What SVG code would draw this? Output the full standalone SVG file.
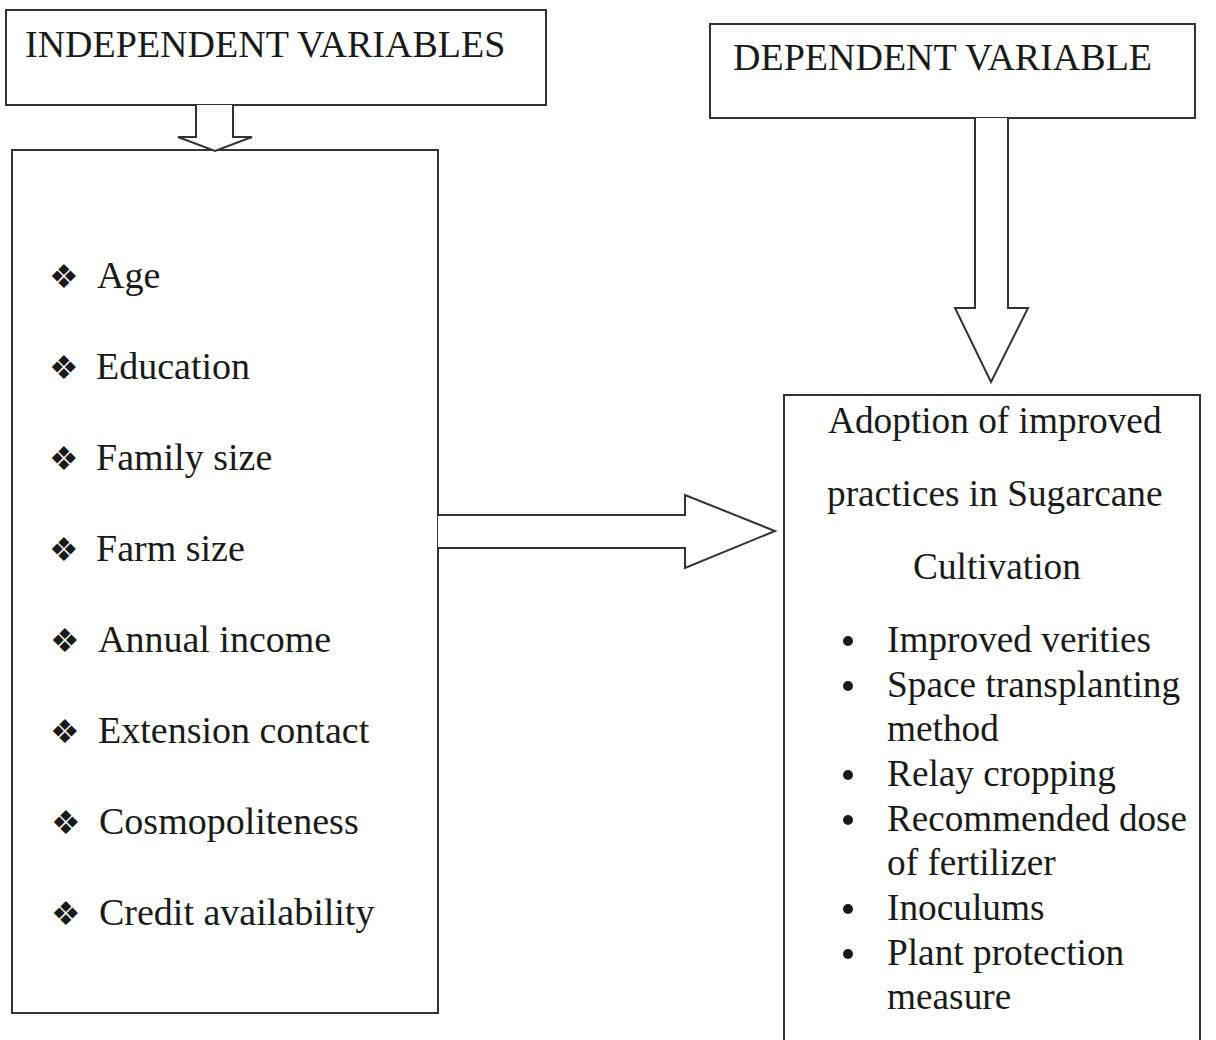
<svg xmlns="http://www.w3.org/2000/svg" width="1216" height="1040" viewBox="0 0 1216 1040">
<style>
.box{fill:none;stroke:#333;stroke-width:2}
.arr{fill:#fff;stroke:#333;stroke-width:2;stroke-linejoin:miter}
.t{font-family:"Liberation Serif","Times New Roman",serif;font-size:38px;fill:#1a1a1a}
.r{font-size:37.3px}
.sym{font-family:"DejaVu Sans",sans-serif;font-size:33px;fill:#1a1a1a}
.dot{fill:#1a1a1a}
</style>
<rect width="1216" height="1040" fill="#fff"/>
<g id="independent-title">
<rect class="box" x="6" y="10" width="540" height="95"/>
<text class="t" x="25" y="57">INDEPENDENT VARIABLES</text>
</g>
<g id="dependent-title">
<rect class="box" x="710" y="24" width="485" height="94"/>
<text class="t" x="733" y="70">DEPENDENT VARIABLE</text>
</g>
<g id="independent-list">
<rect class="box" x="12" y="150" width="426" height="863"/>
<g class="sym">
<text x="49" y="288">❖</text>
<text x="49" y="379">❖</text>
<text x="49" y="470">❖</text>
<text x="49" y="561">❖</text>
<text x="50" y="652">❖</text>
<text x="50" y="743">❖</text>
<text x="51" y="834">❖</text>
<text x="51" y="925">❖</text>
</g>
<text class="t" x="97" y="288">Age</text>
<text class="t" x="96" y="379">Education</text>
<text class="t" x="96" y="470">Family size</text>
<text class="t" x="96" y="561">Farm size</text>
<text class="t" x="98" y="652">Annual income</text>
<text class="t" x="98" y="743">Extension contact</text>
<text class="t" x="99" y="834">Cosmopoliteness</text>
<text class="t" x="99" y="925">Credit availability</text>
</g>
<g id="dependent-outcome">
<rect class="box" x="784" y="395" width="416" height="660"/>
<text class="t r" x="828" y="433">Adoption of improved</text>
<text class="t r" x="827" y="506">practices in Sugarcane</text>
<text class="t r" x="913" y="579">Cultivation</text>
<circle class="dot" cx="848" cy="641" r="5"/>
<circle class="dot" cx="848" cy="686" r="5"/>
<circle class="dot" cx="848" cy="775" r="5"/>
<circle class="dot" cx="848" cy="820" r="5"/>
<circle class="dot" cx="848" cy="909" r="5"/>
<circle class="dot" cx="848" cy="954" r="5"/>
<text class="t r" x="887" y="652">Improved verities</text>
<text class="t r" x="887" y="697">Space transplanting</text>
<text class="t r" x="887" y="741">method</text>
<text class="t r" x="887" y="786">Relay cropping</text>
<text class="t r" x="887" y="831" textLength="300" lengthAdjust="spacingAndGlyphs">Recommended dose</text>
<text class="t r" x="887" y="875">of fertilizer</text>
<text class="t r" x="887" y="920">Inoculums</text>
<text class="t r" x="887" y="965">Plant protection</text>
<text class="t r" x="887" y="1009">measure</text>
</g>
<g id="connectors">
<path class="arr" d="M196,105 L196,137 L178,137 L215,151 L252,137 L233,137 L233,105"/>
<path class="arr" d="M975,118 L975,308 L955,308 L991,382 L1028,308 L1008,308 L1008,118"/>
<path class="arr" d="M438,515 L685,515 L685,495 L775,531 L685,568 L685,548 L438,548"/>
</g>
</svg>
